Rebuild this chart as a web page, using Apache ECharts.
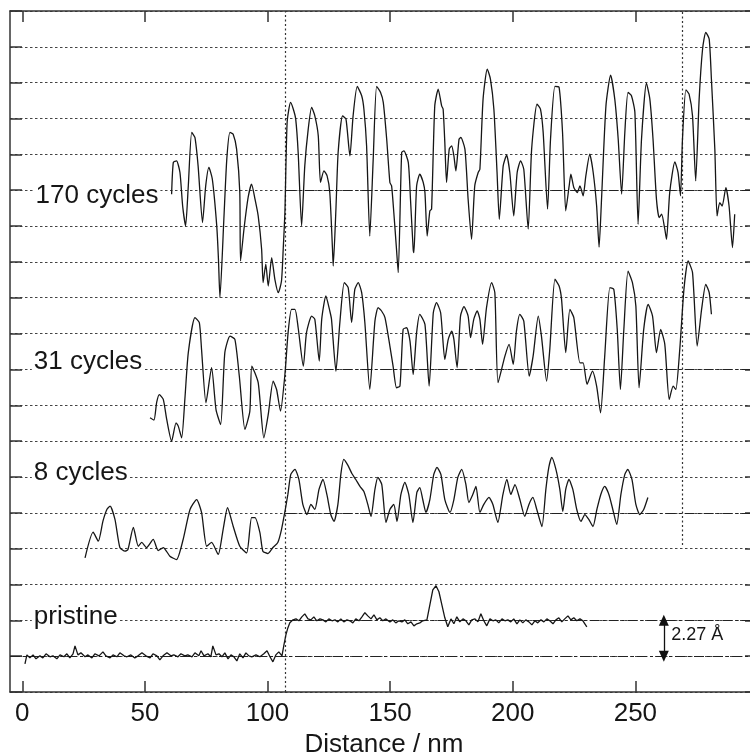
<!DOCTYPE html>
<html><head><meta charset="utf-8">
<script src="https://cdn.jsdelivr.net/npm/echarts@6/dist/echarts.min.js"></script>
<style>html,body{margin:0;padding:0;background:#fff}#c{width:750px;height:756px}</style>
</head><body><div id="c"></div>
<script>
// x tick labels (nm)
const xTicks = [0, 50, 100, 150, 200, 250];
// grid step in Å (the pristine step height)
const STEP = 2.27;
// baseline of each profile (Å, vertical offset on the plot)
const offPristine = 2.27, off8 = 11.35, off31 = 20.43, off170 = 31.78;

// profiles: [distance nm, height Å relative to profile baseline]
const pristine = [[1.1,-0.49],[1.9,0.08],[3.1,-0.11],[4.4,0.08],[5.6,-0.17],[7.2,0.02],[8.4,-0.11],[9.7,0.15],[11.3,-0.04],[12.5,0.02],
[14.1,-0.17],[15.4,0.08],[17.0,-0.04],[18.2,0.15],[19.4,-0.11],[20.7,0.15],[21.5,0.65],[22.7,0.08],[23.9,0.21],[25.6,-0.04],
[26.8,0.08],[28.4,-0.11],[29.6,0.15],[31.3,0.02],[32.9,0.27],[34.1,0.02],[35.8,-0.11],[37.0,0.08],[38.6,-0.04],[39.8,0.21],
[41.5,0.02],[42.7,-0.04],[44.3,0.08],[45.9,-0.11],[47.2,0.02],[48.8,0.21],[50.4,0.02],[52.1,-0.11],[53.3,0.15],[54.9,0.02],
[56.1,-0.23],[57.4,0.02],[59.0,0.21],[60.6,0.02],[61.8,0.08],[63.5,-0.04],[64.7,0.15],[66.3,0.02],[67.5,0.08],[69.2,-0.04],
[70.4,0.21],[72.0,0.02],[72.9,0.34],[74.1,0.02],[75.7,0.15],[76.9,-0.04],[77.7,0.65],[79.0,0.08],[80.2,0.15],[81.4,-0.04],
[82.6,0.21],[83.9,-0.17],[85.1,0.08],[86.3,-0.04],[87.5,-0.30],[88.7,0.15],[90.0,-0.11],[91.2,0.21],[92.4,0.02],[93.6,-0.04],
[95.3,0.08],[96.9,-0.04],[98.5,0.15],[99.8,0.34],[101.0,-0.04],[102.2,-0.36],[103.4,0.08],[104.6,0.27],[105.9,0.02],
[106.7,0.72],[107.5,1.35],[108.3,1.79],[109.1,2.11],
[110.4,2.30],[111.6,2.36],[112.8,2.24],[114.0,2.49],[115.2,2.68],[116.5,2.36],[117.7,2.30],[118.9,2.49],[120.1,2.24],[121.4,2.36],
[122.6,2.30],[123.8,2.17],[125.0,2.36],[126.3,2.24],[127.5,2.30],[128.7,2.17],[129.9,2.36],[131.1,2.17],[132.4,2.30],[133.6,2.24],
[134.8,2.11],[136.0,2.36],[137.3,2.24],[138.5,2.49],[139.7,2.75],[140.9,2.55],[142.2,2.36],[143.4,2.62],[144.6,2.30],[145.8,2.43],
[147.0,2.24],[148.3,2.36],[149.9,2.17],[151.1,2.30],[152.3,2.11],[153.6,2.24],[154.8,2.17],[156.0,2.30],[157.2,2.05],[158.5,2.17],
[159.7,1.92],[160.9,2.05],[162.1,2.11],[163.3,2.24],[165.0,2.30],[166.2,3.25],[167.4,4.20],[168.7,4.46],[169.9,4.08],[171.1,3.25],
[172.3,2.43],[173.5,1.86],[174.8,2.36],[176.0,2.05],[177.2,2.49],[178.4,2.17],[179.7,2.36],[180.9,2.24],[182.1,1.98],[183.3,2.30],
[184.6,2.36],[185.8,2.17],[187.0,2.68],[188.2,2.24],[189.4,1.92],[190.7,2.36],[191.9,2.24],[193.1,2.30],[194.3,2.11],[195.6,2.36],
[196.8,2.24],[198.0,2.30],[199.2,2.17],[200.4,2.36],[201.7,2.05],[202.9,2.30],[204.1,2.11],[205.3,2.30],[206.6,2.17],[207.8,1.98],
[209.0,2.24],[210.2,2.11],[211.5,2.30],[212.7,2.17],[213.9,2.36],[215.1,2.24],[216.4,2.05],[217.6,2.30],[218.8,2.43],[220.0,2.17],
[221.2,2.36],[222.5,2.55],[223.7,2.30],[224.9,2.43],[226.1,2.24],[227.4,2.36],[228.6,2.24],[230.2,1.86]];

const cycles8 = [[25.6,-2.85],[28.9,-1.23],[31.0,-1.80],[32.9,-0.53],[34.5,0.21],[35.8,0.42],[37.8,-0.42],[39.8,-2.20],[41.9,-2.43],[43.1,-2.33],
[45.3,-0.93],[47.3,-2.12],[48.7,-1.88],[50.7,-2.20],[53.4,-1.69],[55.4,-2.39],[57.5,-2.20],[60.2,-2.75],[62.9,-2.96],[65.6,-1.69],
[68.4,0.21],[71.1,0.84],[73.1,0.02],[75.2,-2.12],[77.2,-1.88],[79.9,-2.64],[81.9,-1.06],[83.7,0.32],[86.0,-0.85],[88.7,-2.12],
[91.5,-2.54],[93.5,-0.30],[94.9,-0.30],[96.9,-1.25],[98.1,-2.43],[100.2,-2.58],[102.2,-2.20],[104.2,-1.88],[105.7,-1.06],[107.1,0.08],
[108.3,1.16],[109.5,2.43],[111.2,2.75],[112.8,2.11],[114.4,0.53],[116.1,-0.11],[117.7,0.53],[119.3,0.21],[121.0,1.48],[122.6,2.11],
[124.2,1.16],[125.8,-0.11],[127.1,-0.55],[128.7,0.53],[129.9,2.43],[131.1,3.38],[132.8,3.00],[134.4,2.49],[136.0,2.11],[137.7,1.67],
[139.3,1.35],[140.9,0.53],[142.2,-0.23],[143.8,1.48],[145.0,2.24],[146.6,1.79],[148.3,-0.61],[149.9,0.21],[151.5,0.53],[152.8,-0.55],
[154.4,1.16],[156.0,1.92],[157.6,1.16],[159.3,-0.61],[160.9,1.29],[162.1,1.60],[163.3,0.84],[164.6,0.02],[166.2,0.84],[167.8,2.43],
[169.1,2.87],[170.7,2.43],[172.3,0.84],[174.4,0.02],[176.0,0.84],[177.6,2.24],[179.2,2.75],[180.9,1.79],[182.1,0.65],[183.7,1.16],
[185.0,1.67],[186.6,0.02],[188.2,0.53],[190.3,0.97],[191.9,0.53],[193.9,-0.61],[196.0,1.16],[197.6,2.11],[199.2,1.16],[200.9,1.79],
[202.9,0.84],[204.9,-0.23],[206.6,0.53],[208.2,0.97],[209.8,0.21],[211.9,-0.87],[213.5,1.48],[214.7,2.87],[215.9,3.51],[217.6,2.75],
[219.2,1.48],[220.4,0.08],[221.6,1.48],[222.9,2.11],[224.5,1.48],[226.1,0.21],[227.8,-0.55],[229.4,-0.11],[231.0,-0.42],[232.7,-0.87],
[234.3,0.21],[235.9,1.16],[237.5,1.67],[239.2,1.16],[240.8,0.21],[242.4,-0.74],[244.1,1.16],[245.7,2.43],[246.9,2.75],[248.6,2.11],
[250.2,0.53],[251.8,-0.11],[253.4,0.21],[255.1,0.97]];

const cycles31 = [[52.1,-3.06],[53.7,-3.21],[54.8,-2.09],[55.9,-1.59],[57.5,-1.90],[58.9,-3.17],[60.9,-4.55],[62.7,-3.38],[63.6,-3.59],[65.0,-4.33],
[66.3,-1.90],[67.7,1.06],[70.4,3.28],[72.2,2.96],[73.1,1.27],[74.9,-2.11],[77.2,0.11],[79.0,-2.54],[80.9,-3.49],[82.6,1.06],
[84.7,2.11],[86.7,1.90],[88.5,-0.42],[90.8,-3.80],[92.8,-2.64],[93.6,0.21],[96.2,-0.84],[98.5,-4.33],[100.3,-2.85],[102.3,-0.74],
[103.7,-1.27],[105.3,-2.64],[107.1,-0.32],[108.4,2.33],[109.8,3.80],[111.2,3.80],[112.5,2.64],[114.6,0.21],[115.9,2.33],[118.0,3.38],
[119.3,3.17],[121.1,0.53],[122.1,3.17],[123.8,4.65],[125.4,3.70],[126.1,3.17],[127.9,-0.11],[129.5,2.96],[131.3,5.50],[132.9,5.18],
[134.3,2.96],[135.6,5.07],[137.0,5.50],[138.4,4.86],[139.7,2.96],[141.7,-1.27],[143.8,3.06],[145.1,3.91],[146.5,3.70],[147.9,3.28],
[149.9,1.48],[151.2,0.21],[152.6,-1.16],[154.0,-1.06],[155.3,2.54],[156.7,2.64],[158.1,1.79],[159.4,-0.32],[160.8,2.33],[162.1,3.49],
[164.2,2.85],[165.9,-1.06],[167.6,3.59],[168.9,4.23],[170.6,3.59],[172.3,0.63],[173.7,1.90],[175.1,2.43],[176.0,1.90],[177.3,0.11],
[178.7,3.38],[180.1,3.98],[181.8,3.38],[182.8,2.01],[184.1,3.17],[185.5,3.70],[186.6,3.17],[187.7,1.59],[189.3,3.91],[191.4,5.50],
[192.7,4.86],[194.0,-0.84],[196.8,0.84],[198.5,1.59],[200.2,0.32],[201.5,2.43],[202.9,3.49],[204.5,3.06],[206.7,-0.42],[208.3,0.84],
[210.4,3.38],[211.7,2.11],[213.8,-0.74],[215.1,1.27],[217.2,5.71],[218.9,5.28],[219.9,4.44],[221.6,1.06],[223.3,3.80],[224.9,3.28],
[227.4,0.42],[228.7,0.42],[230.3,-0.95],[232.5,-0.11],[234.2,-1.06],[235.8,-2.75],[237.5,0.84],[239.6,5.18],[241.2,5.07],[242.6,2.54],
[243.9,-1.27],[245.3,2.54],[247.0,6.23],[248.8,5.50],[250.2,4.01],[251.5,-1.16],[253.4,2.54],[255.2,4.12],[257.0,3.38],[258.6,1.06],
[260.3,2.54],[262.0,1.59],[263.8,-1.90],[265.4,-1.06],[266.5,-1.27],[268.1,1.27],[269.8,5.07],[271.5,6.87],[273.3,6.13],[275.2,1.48],
[277.0,3.80],[278.7,5.39],[280.1,4.86],[281.0,3.49]];

const cycles170 = [[60.9,-0.25],[61.6,1.76],[62.9,1.86],[64.3,1.12],[65.4,-1.00],[66.6,-2.26],[67.7,0.27],[69.1,3.66],[70.4,3.34],[71.7,1.54],
[73.5,-2.05],[74.8,0.27],[76.1,1.44],[77.5,0.70],[79.3,-2.26],[80.0,-4.37],[80.6,-6.80],[82.2,-1.84],[83.4,1.97],[84.7,3.66],
[86.0,3.55],[87.4,2.60],[88.7,-0.15],[89.0,-4.48],[90.4,-2.47],[92.1,-0.46],[93.5,0.38],[94.9,-0.57],[96.2,-1.63],[97.6,-3.74],
[98.2,-5.85],[99.3,-4.69],[100.3,-6.07],[101.7,-4.27],[103.0,-5.64],[104.4,-6.49],[105.7,-5.75],[106.4,-3.74],[107.1,-1.39],[108.0,4.29],
[109.4,5.56],[110.5,5.14],[111.5,4.50],[112.5,2.39],[113.9,-2.26],[115.2,1.54],[116.6,3.87],[118.0,5.24],[119.3,4.71],[120.7,3.44],
[121.6,0.49],[123.0,1.22],[124.3,0.91],[125.4,-0.15],[126.5,-3.74],[126.8,-4.80],[127.9,-1.20],[128.8,2.39],[130.6,4.71],[132.0,4.50],
[133.6,2.17],[134.9,4.71],[136.6,6.57],[138.4,5.98],[139.3,5.14],[140.4,2.81],[141.7,-2.90],[143.1,1.97],[144.5,6.57],[146.1,6.19],
[147.2,5.56],[148.6,3.23],[149.9,0.49],[150.6,0.27],[151.5,-1.41],[152.6,-3.74],[153.3,-5.22],[154.7,2.39],[155.6,2.49],[157.4,1.76],
[158.3,-0.57],[159.4,-3.74],[159.7,-3.95],[160.8,0.27],[162.1,1.01],[163.5,0.49],[164.2,-0.15],[165.1,-2.90],[166.2,-1.31],[166.9,-1.20],
[168.2,5.34],[169.6,6.40],[171.0,5.34],[171.6,5.14],[172.3,3.02],[173.0,0.49],[174.1,2.60],[175.1,2.81],[176.0,2.17],[176.8,1.22],
[178.1,3.23],[178.8,3.34],[180.5,2.60],[181.8,-0.57],[183.2,-3.11],[184.5,0.27],[185.9,1.12],[186.6,1.33],[187.9,5.77],[189.6,7.67],
[190.9,7.04],[192.3,5.14],[193.6,1.12],[194.5,-1.84],[196.1,1.54],[197.5,2.22],[198.8,1.12],[200.4,-1.63],[201.8,1.12],[203.2,1.86],
[204.5,1.33],[206.3,-2.47],[207.7,2.60],[209.9,5.45],[211.3,5.14],[212.4,3.66],[214.2,-1.20],[215.4,3.23],[217.2,6.57],[218.9,6.51],
[220.3,3.66],[221.6,-1.31],[223.0,0.27],[223.7,1.01],[224.9,0.17],[226.3,-0.15],[227.4,0.27],[228.7,-0.36],[229.8,0.91],[231.4,2.28],
[232.8,1.12],[234.2,-1.00],[235.2,-3.61],[236.2,-0.57],[238.0,5.34],[239.9,7.29],[241.6,5.77],[243.0,3.23],[244.4,-0.25],[245.7,3.66],
[247.0,6.19],[248.4,5.98],[249.8,4.93],[251.1,-2.16],[252.5,3.23],[254.5,6.78],[255.9,5.77],[257.2,3.23],[258.6,-0.57],[259.7,-1.73],
[260.7,-1.52],[262.0,-2.47],[262.7,-3.11],[264.0,-0.15],[266.1,1.79],[267.4,1.12],[268.4,-0.36],[269.2,3.23],[270.6,6.36],[271.9,6.09],
[273.3,4.71],[274.6,0.59],[276.0,5.77],[277.4,8.94],[278.7,10.00],[280.1,9.57],[281.0,7.04],[282.4,2.60],[283.3,-1.63],[284.4,-0.78],
[285.4,-1.00],[286.9,0.17],[288.2,-1.00],[289.6,-3.63],[290.5,-1.52]];

// text labels
const labelNames = ['170 cycles', '31 cycles', '8 cycles', 'pristine'];
const labelX = [4.6, 3.9, 3.9, 3.9];
const labelY = [31.44, 20.88, 13.85, 4.74];
const stepText = '2.27 Å';
const stepTextPos = [264.6, 3.61];
// reference lines
const stepX = 107.4;      // vertical dotted line at the step
const rightMarkX = 269.2; // second vertical dotted line
const rightMarkBottom = 9.31;
const arrowX = 261.6;

const X_MIN = -5, X_MAX = 300, Y_MAX = 19 * STEP;
const FONT = 'Liberation Sans, Arial, Helvetica, sans-serif';
const INK = '#161616';

function shift(arr, off) { return arr.map(p => [p[0], off + p[1]]); }

const dashDot = [10, 3, 3, 3];
const markLines = [
  [{coord: [X_MIN, offPristine], lineStyle: {type: dashDot}}, {coord: [X_MAX, offPristine]}],
  [{coord: [stepX, offPristine + STEP], lineStyle: {type: dashDot}}, {coord: [X_MAX, offPristine + STEP]}],
  [{coord: [stepX, off8], lineStyle: {type: dashDot}}, {coord: [X_MAX, off8]}],
  [{coord: [stepX, off31], lineStyle: {type: dashDot}}, {coord: [X_MAX, off31]}],
  [{coord: [stepX, off170], lineStyle: {type: dashDot}}, {coord: [X_MAX, off170]}],
  [{coord: [stepX, 0], lineStyle: {type: [2, 2.5], color: '#333'}}, {coord: [stepX, Y_MAX]}],
  [{coord: [rightMarkX, rightMarkBottom], lineStyle: {type: [2, 2.5], color: '#333'}}, {coord: [rightMarkX, Y_MAX]}]
];

const lineSeries = (data, smooth) => ({
  type: 'line', data: data, showSymbol: false, symbol: 'none', smooth: smooth,
  lineStyle: {color: INK, width: 1.3}, animation: false, silent: true, z: 5
});

const chart = echarts.init(document.getElementById('c'), null, {renderer: 'canvas'});
const axisLineStyle = {color: '#333', width: 1.5};
chart.setOption({
  animation: false,
  backgroundColor: '#fff',
  grid: {left: 10, right: -8, top: 11, bottom: 64, outerBoundsMode: 'none', containLabel: false},
  xAxis: [{
    type: 'value', min: X_MIN, max: X_MAX, position: 'bottom',
    axisLine: {show: true, onZero: false, lineStyle: axisLineStyle},
    axisTick: {show: true, inside: true, length: 11, customValues: xTicks, lineStyle: {color: '#333', width: 1.5}},
    axisLabel: {show: true, customValues: xTicks, fontSize: 26, fontFamily: FONT, color: INK, margin: 9},
    splitLine: {show: false},
    name: 'Distance / nm', nameLocation: 'middle', nameGap: 39,
    nameTextStyle: {fontSize: 26, fontFamily: FONT, color: INK}
  }, {
    type: 'value', min: X_MIN, max: X_MAX, position: 'top',
    axisLine: {show: true, onZero: false, lineStyle: axisLineStyle},
    axisTick: {show: true, inside: true, length: 11, customValues: xTicks, lineStyle: {color: '#333', width: 1.5}},
    axisLabel: {show: false}, splitLine: {show: false}
  }],
  yAxis: [{
    type: 'value', min: 0, max: Y_MAX, interval: STEP, position: 'left',
    axisLine: {show: true, onZero: false, lineStyle: axisLineStyle},
    axisTick: {show: true, inside: true, length: 12, lineStyle: {color: '#333', width: 1.5}},
    axisLabel: {show: false},
    splitLine: {show: true, lineStyle: {color: '#444', width: 1, type: [2.5, 2.5]}}
  }, {
    type: 'value', min: 0, max: Y_MAX, interval: STEP, position: 'right',
    axisLine: {show: false, onZero: false},
    axisTick: {show: true, inside: true, length: 13, lineStyle: {color: '#333', width: 1.5}},
    axisLabel: {show: false}, splitLine: {show: false}
  }],
  series: [
    {
      type: 'line', data: [], silent: true, animation: false, z: 3,
      markLine: {
        silent: true, animation: false, symbol: 'none', label: {show: false},
        lineStyle: {color: '#222', width: 1.2},
        emphasis: {disabled: true},
        data: markLines
      }
    },
    {
      type: 'line', data: [], silent: true, animation: false, z: 6,
      markLine: {
        silent: true, animation: false, label: {show: false},
        symbol: ['triangle', 'triangle'], symbolSize: [10, 11],
        lineStyle: {color: '#111', width: 1.3, type: 'solid'},
        itemStyle: {color: '#111'},
        emphasis: {disabled: true},
        data: [[{coord: [arrowX, offPristine]}, {coord: [arrowX, offPristine + STEP]}]]
      }
    },
    lineSeries(shift(pristine, offPristine), false),
    lineSeries(shift(cycles8, off8), 0.2),
    lineSeries(shift(cycles31, off31), 0.2),
    lineSeries(shift(cycles170, off170), 0.2)
  ]
});

// text annotations placed through the chart's own coordinate conversion
const toPx = (v) => chart.convertToPixel({xAxisIndex: 0, yAxisIndex: 0}, v);
const graphics = labelNames.map((n, i) => {
  const p = toPx([labelX[i], labelY[i]]);
  return {type: 'text', x: p[0], y: p[1], z: 100, silent: true,
    style: {text: n, font: '26px ' + FONT, fill: INK, verticalAlign: 'middle', align: 'left',
      backgroundColor: '#fff', padding: [0, 2]}};
});
const sp = toPx(stepTextPos);
graphics.push({type: 'text', x: sp[0], y: sp[1], z: 100, silent: true,
  style: {text: stepText, font: '18px ' + FONT, fill: INK, verticalAlign: 'middle', align: 'left'}});
chart.setOption({graphic: graphics});
</script>
</body></html>
